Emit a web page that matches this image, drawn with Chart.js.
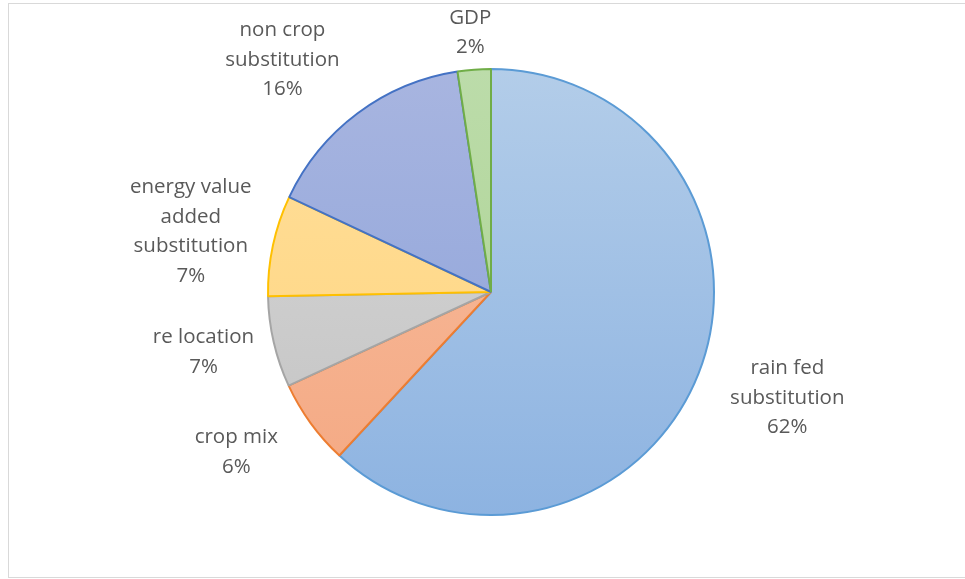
<!DOCTYPE html>
<html>
<head>
<meta charset="utf-8">
<script src="https://cdn.jsdelivr.net/npm/chart.js@4"></script>
<style>
    html, body { margin: 0; padding: 0; background: #fff; }
    #wrap { width: 965px; height: 579px; position: relative; }
</style>
</head>
<body>
<div id="wrap"><canvas id="pie"></canvas></div>
<script>
// slices, clockwise from 12 o'clock
const categories = [
    ['rain fed', 'substitution'],
    ['crop mix'],
    ['re location'],
    ['energy value', 'added', 'substitution'],
    ['non crop', 'substitution'],
    ['GDP']
];
const shares = [61.9, 6.2, 6.6, 7.3, 15.6, 2.4];

// fill gradient (top, bottom) and outline per slice
const fillTop = ['#b3cde9', '#f8bea0', '#d8d8d8', '#ffdf9c', '#a8b5e0', '#bcdcaa'];
const fillBottom = ['#8db3e1', '#f4a882', '#c2c2c2', '#ffd47c', '#8aa1d9', '#a9d18e'];
const outline = ['#5b9bd5', '#ed7d31', '#a5a5a5', '#ffc000', '#4472c4', '#70ad47'];

// label placement: distance along the slice's mid angle, then a small nudge
const labelDist = [314, 300, 294, 307, 312, 262];
const labelNudge = [[4, -9], [-12, -16], [-1, -6], [0, 4], [-22, 18], [-1, 2]];

const FONT = '20.5px "Open Sans", sans-serif';
const LINE_H = 29.5;

const framePlugin = {
    id: 'frame',
    beforeDraw(chart) {
        const c = chart.ctx;
        c.save();
        c.strokeStyle = '#d9d9d9';
        c.lineWidth = 1;
        c.strokeRect(8.5, 3.5, 970, 574);
        c.restore();
    }
};

const labelPlugin = {
    id: 'outsideLabels',
    afterDatasetsDraw(chart) {
        const c = chart.ctx;
        const meta = chart.getDatasetMeta(0);
        const total = shares.reduce((a, b) => a + b, 0);
        c.save();
        c.font = FONT;
        c.fillStyle = '#595959';
        c.textAlign = 'center';
        c.textBaseline = 'middle';
        meta.data.forEach((arc, i) => {
            const p = arc.getProps(['x', 'y', 'startAngle', 'endAngle'], true);
            const mid = (p.startAngle + p.endAngle) / 2;
            const cx = p.x + Math.cos(mid) * labelDist[i] + labelNudge[i][0];
            const cy = p.y + Math.sin(mid) * labelDist[i] + labelNudge[i][1];
            const lines = categories[i].concat([Math.round(shares[i] / total * 100) + '%']);
            const y0 = cy - (lines.length - 1) * LINE_H / 2;
            lines.forEach((t, k) => c.fillText(t, cx, y0 + k * LINE_H));
        });
        c.restore();
    }
};

function vGrad(ctx, area, top, bottom) {
    const g = ctx.createLinearGradient(0, area.top, 0, area.bottom);
    g.addColorStop(0, top);
    g.addColorStop(1, bottom);
    return g;
}

const ctx = document.getElementById('pie').getContext('2d');
new Chart(ctx, {
    type: 'pie',
    data: {
        labels: categories.map(l => l.join(' ')),
        datasets: [{
            data: shares,
            backgroundColor: (c) => {
                const area = c.chart.chartArea;
                if (!area) return fillBottom[c.dataIndex];
                return vGrad(c.chart.ctx, area, fillTop[c.dataIndex], fillBottom[c.dataIndex]);
            },
            borderColor: outline,
            borderWidth: 2,
            hoverOffset: 0
        }]
    },
    options: {
        responsive: true,
        maintainAspectRatio: false,
        animation: false,
        layout: { padding: { left: 100, right: 83, top: 68, bottom: 63 } },
        plugins: {
            legend: { display: false },
            tooltip: { enabled: false }
        }
    },
    plugins: [framePlugin, labelPlugin]
});
</script>
</body>
</html>
